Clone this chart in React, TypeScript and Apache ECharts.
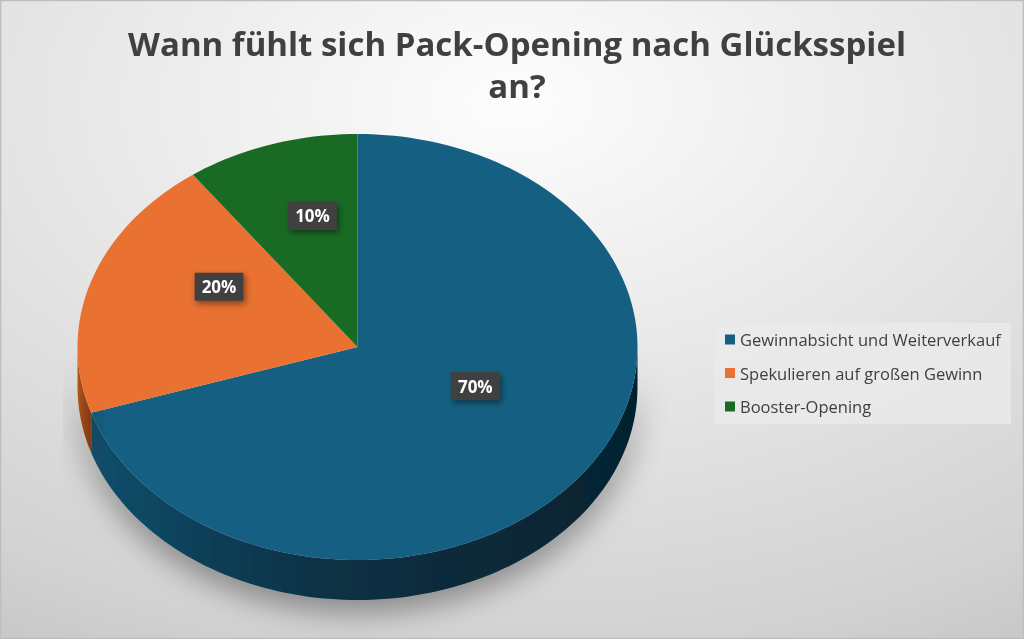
import { useEffect, useRef } from "react";
import * as echarts from "echarts";

const categories = [
  "Gewinnabsicht und Weiterverkauf",
  "Spekulieren auf großen Gewinn",
  "Booster-Opening",
];
const values = [70, 20, 10];
const colors = ["#156082", "#E97132", "#196B24"];
const sideColors = [
  ["#124e6b", "#0a3246", "#06222e"],
  ["#b4551f", "#9a4619", "#7f3a14"],
  ["#12501b", "#0d3b14", "#0a2e10"],
];

const TITLE = "Wann fühlt sich Pack-Opening nach Glücksspiel\nan?";

// pie geometry (flattened 3d look)
const CX = 357.5;
const CY = 347;
const RX = 280;
const RY = 213;
const DEPTH = 40;
const LABEL_R = 0.52;
const LABEL_LIFT = 26;

const total = values.reduce((a, b) => a + b, 0);
const starts: number[] = [];
values.reduce((acc, v) => {
  starts.push(acc);
  return acc + v;
}, 0);

function arc(a0: number, a1: number, dy: number) {
  const pts: number[][] = [];
  const n = Math.max(2, Math.ceil((a1 - a0) / (Math.PI / 120)));
  for (let k = 0; k <= n; k++) {
    const t = a0 + ((a1 - a0) * k) / n;
    pts.push([CX + RX * Math.sin(t), CY - RY * Math.cos(t) + dy]);
  }
  return pts;
}

function sliceRenderer(i: number) {
  return () => {
    const a0 = (starts[i] / total) * Math.PI * 2;
    const a1 = ((starts[i] + values[i]) / total) * Math.PI * 2;
    const children: any[] = [];

    const s = Math.max(a0, Math.PI / 2);
    const e = Math.min(a1, (Math.PI * 3) / 2);
    if (s < e) {
      const top = arc(s, e, 0);
      const bottom = arc(s, e, DEPTH).reverse();
      children.push({
        type: "polygon",
        shape: { points: [...top, ...bottom] },
        style: {
          fill: new echarts.graphic.LinearGradient(0, 0, 1, 0, [
            { offset: 0, color: sideColors[i][0] },
            { offset: 0.4, color: sideColors[i][1] },
            { offset: 1, color: sideColors[i][2] },
          ]),
          shadowBlur: 30,
          shadowColor: "rgba(0,0,0,0.38)",
          shadowOffsetY: 12,
        },
      });
    }

    children.push({
      type: "polygon",
      shape: { points: [[CX, CY], ...arc(a0, a1, 0)] },
      style: { fill: colors[i] },
    });

    const mid = (a0 + a1) / 2;
    children.push({
      type: "text",
      z2: 10,
      x: CX + RX * LABEL_R * Math.sin(mid),
      y: CY - RY * LABEL_R * Math.cos(mid) - LABEL_LIFT,
      style: {
        text: `${Math.round((values[i] / total) * 100)}%`,
        fill: "#ffffff",
        font: 'bold 17px "Open Sans"',
        align: "center",
        verticalAlign: "middle",
        backgroundColor: "#404040",
        padding: [6, 7, 5, 7],
        shadowBlur: 6,
        shadowColor: "rgba(0,0,0,0.45)",
        shadowOffsetX: 2,
        shadowOffsetY: 3,
      },
    });

    return { type: "group", children };
  };
}

export default function App() {
  const ref = useRef<HTMLDivElement>(null);

  useEffect(() => {
    if (!ref.current) return;
    const chart = echarts.init(ref.current, undefined, { renderer: "svg" });

    chart.setOption({
      animation: false,
      backgroundColor: {
        type: "radial",
        x: 0.5,
        y: 0.16,
        r: 1.0,
        colorStops: [
          { offset: 0, color: "#fdfdfd" },
          { offset: 0.5, color: "#e4e4e4" },
          { offset: 0.85, color: "#d2d2d2" },
          { offset: 1, color: "#c6c6c6" },
        ],
      },
      graphic: [
        {
          type: "rect",
          silent: true,
          shape: { x: 0.5, y: 0.5, width: 1023, height: 638 },
          style: { fill: "none", stroke: "#bdbdbd", lineWidth: 1.5 },
        },
      ],
      title: {
        text: TITLE,
        left: 512,
        top: 17,
        textAlign: "center",
        textStyle: {
          fontFamily: "Open Sans",
          fontSize: 33,
          fontWeight: "bold",
          color: "#404040",
          lineHeight: 42,
        },
      },
      legend: {
        orient: "vertical",
        left: 715,
        top: 323,
        icon: "rect",
        itemWidth: 10,
        itemHeight: 10,
        itemGap: 16.5,
        padding: [8, 10, 9, 10],
        backgroundColor: "rgba(234,234,234,0.85)",
        textStyle: {
          fontFamily: "Open Sans",
          fontSize: 16.5,
          lineHeight: 17,
          color: "#404040",
        },
        data: categories,
      },
      series: categories.map((name, i) => ({
        type: "custom",
        name,
        coordinateSystem: "none",
        silent: true,
        data: [values[i]],
        itemStyle: { color: colors[i] },
        renderItem: sliceRenderer(i),
      })),
    });

    return () => chart.dispose();
  }, []);

  return (
    <div
      ref={ref}
      style={{ position: "fixed", left: 0, top: 0, width: 1024, height: 639 }}
    />
  );
}
